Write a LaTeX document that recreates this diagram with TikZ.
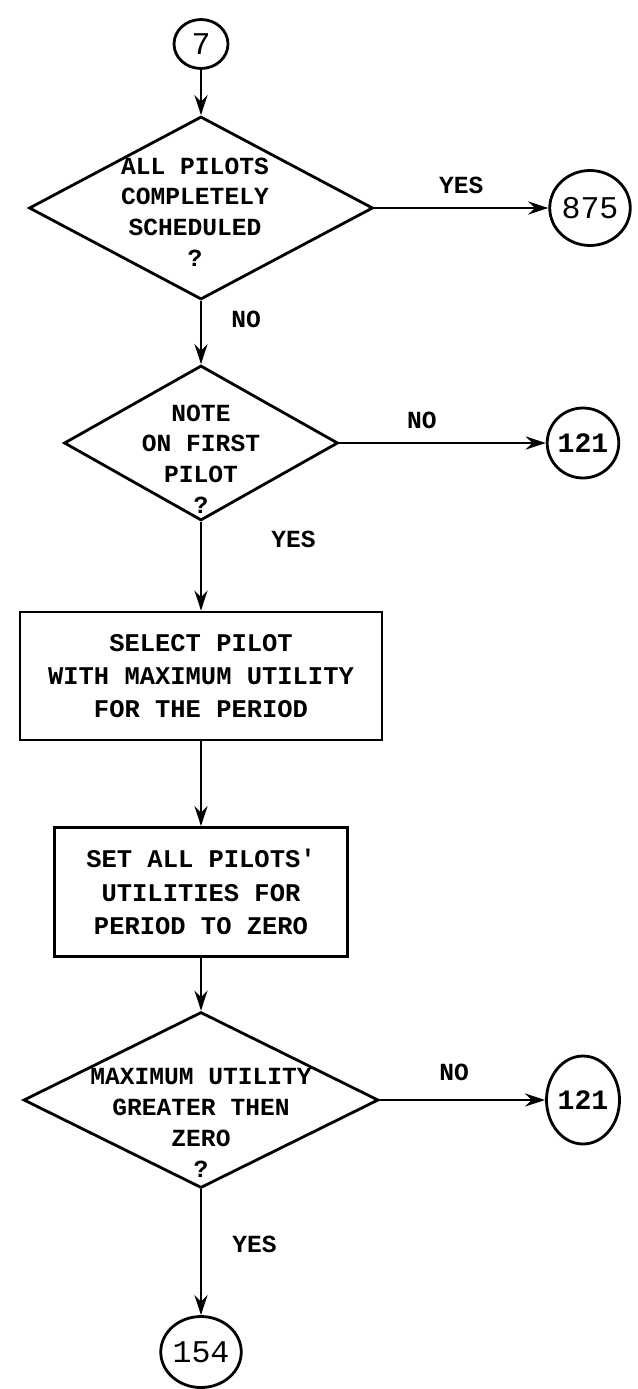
\documentclass[tikz,border=0pt]{standalone}
\usepackage{fontspec}
\newfontfamily\typewfont{Liberation Mono}
\usetikzlibrary{shapes.geometric,arrows.meta}

\begin{document}
\begin{tikzpicture}[x=0.02cm,y=-0.02cm,line width=1.6pt,
  >={Stealth[length=4mm,width=2.6mm]},
  txt/.style={font=\typewfont\bfseries\fontsize{14}{17.5}\selectfont, align=center, inner sep=0pt},
  decision/.style={draw, diamond, inner sep=0pt},
  process/.style={draw, rectangle, align=center, font=\typewfont\bfseries\fontsize{14.5}{19}\selectfont},
  connector/.style={draw, ellipse, inner sep=0pt, font=\typewfont\fontsize{18}{20}\selectfont}]
\useasboundingbox (0,0) rectangle (637,1389);

\node[connector, minimum width=1.08cm, minimum height=0.98cm] (c7) at (201,44) {7};

\node[decision, minimum width=6.88cm, minimum height=3.66cm] (d1) at (201,208) {};
\node[txt] (d1txt) at (195,212) {ALL PILOTS\\COMPLETELY\\SCHEDULED\\?};
\node[connector, minimum width=1.4cm, minimum height=1.5cm] (c875) at (590,208) {875};

\node[decision, minimum width=5.48cm, minimum height=3.1cm] (d2) at (201,443) {};
\node[txt] (d2txt) at (201,459) {NOTE\\ON FIRST\\PILOT\\?};
\node[connector, minimum width=1.16cm, minimum height=1.4cm, font=\typewfont\bfseries\fontsize{16}{18}\selectfont] (c121a) at (583,443) {121};

\node[process, minimum width=7.24cm, minimum height=2.56cm] (r1) at (201,676) {SELECT PILOT\\WITH MAXIMUM UTILITY\\FOR THE PERIOD};
\node[process, minimum width=5.86cm, minimum height=2.58cm] (r2) at (201,892) {SET ALL PILOTS'\\UTILITIES FOR\\PERIOD TO ZERO};

\node[decision, minimum width=7.1cm, minimum height=3.52cm] (d3) at (201,1100) {};
\node[txt] (d3txt) at (201,1123) {MAXIMUM UTILITY\\GREATER THEN\\ZERO\\?};
\node[connector, minimum width=1.46cm, minimum height=1.76cm, font=\typewfont\bfseries\fontsize{16}{18}\selectfont] (c121b) at (583,1100) {121};

\node[connector, minimum width=1.6cm, minimum height=1.42cm] (c154) at (201,1352) {154};

\draw[->] (c7) -- (d1);
\draw[->] (d1.east) -- node[txt, above=0.25cm] {YES} (c875);
\draw[->] (d1.south) -- node[txt, pos=0.3, right=0.58cm] {NO} (d2.north);
\draw[->] (d2.east) -- node[txt, pos=0.4, above=0.25cm] {NO} (c121a);
\draw[->] (d2.south) -- node[txt, pos=0.2, right=1.38cm] {YES} (r1.north);
\draw[->] (r1) -- (r2);
\draw[->] (r2) -- (d3);
\draw[->] (d3.east) -- node[txt, pos=0.45, above=0.35cm] {NO} (c121b);
\draw[->] (d3.south) -- node[txt, pos=0.44, right=0.6cm] {YES} (c154);
\end{tikzpicture}
\end{document}
